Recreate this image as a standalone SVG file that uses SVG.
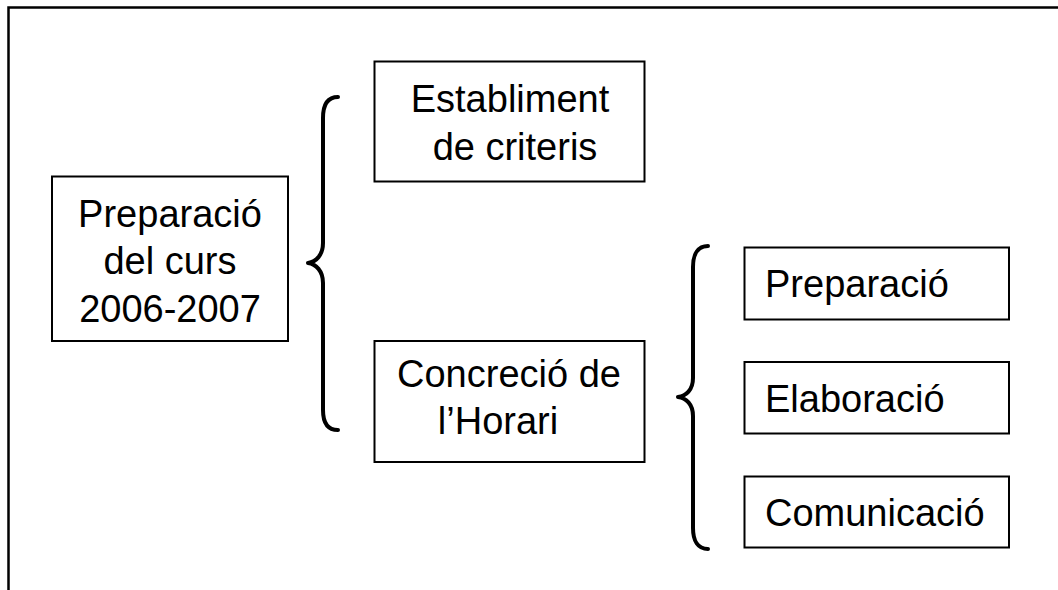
<svg xmlns="http://www.w3.org/2000/svg" width="1058" height="590" viewBox="0 0 1058 590">
<style>
.box{fill:#fff;stroke:#000;stroke-width:2}
.t{font-family:"Liberation Sans",Arial,sans-serif;font-size:38px;fill:#000}
.c{text-anchor:middle}
.brace{fill:none;stroke:#000;stroke-width:4;stroke-linecap:round;stroke-linejoin:round}
</style>
<rect width="1058" height="590" fill="#fff"/>
<path d="M8.5,590 V7.5 H1058" fill="none" stroke="#000" stroke-width="2.5"/>
<g id="connectors">
<path class="brace" d="M338,97 C328,97 323,104 323,118 V243 C323,255 316,262 308,263 C316,264 323,271 323,283 V410 C323,423 328,430 338,430"/>
<path class="brace" d="M708,246 C698,246 693,254 693,267 V378 C693,390 686,396 678,397 C686,398 693,404 693,416 V528 C693,541 698,549 708,549"/>
</g>
<g id="node-preparacio-curs">
<rect class="box" x="52" y="176.5" width="236" height="164.5"/>
<text class="t c" x="170" y="226.5">Preparació</text>
<text class="t c" x="170" y="274">del curs</text>
<text class="t c" x="170" y="321.5">2006-2007</text>
</g>
<g id="node-establiment">
<rect class="box" x="374.5" y="61.5" width="270" height="120"/>
<text class="t c" x="510" y="112">Establiment</text>
<text class="t c" x="515" y="160">de criteris</text>
</g>
<g id="node-concrecio">
<rect class="box" x="374.5" y="341" width="270" height="121"/>
<text class="t c" x="509" y="386.5">Concreció de</text>
<text class="t c" x="498" y="433.5">l’Horari</text>
</g>
<g id="node-preparacio">
<rect class="box" x="744.5" y="247.5" width="264.5" height="72"/>
<text class="t" x="765" y="297">Preparació</text>
</g>
<g id="node-elaboracio">
<rect class="box" x="744.5" y="362" width="264.5" height="71.5"/>
<text class="t" x="765" y="412">Elaboració</text>
</g>
<g id="node-comunicacio">
<rect class="box" x="744.5" y="476.5" width="264.5" height="71"/>
<text class="t" x="765" y="526">Comunicació</text>
</g>
</svg>
